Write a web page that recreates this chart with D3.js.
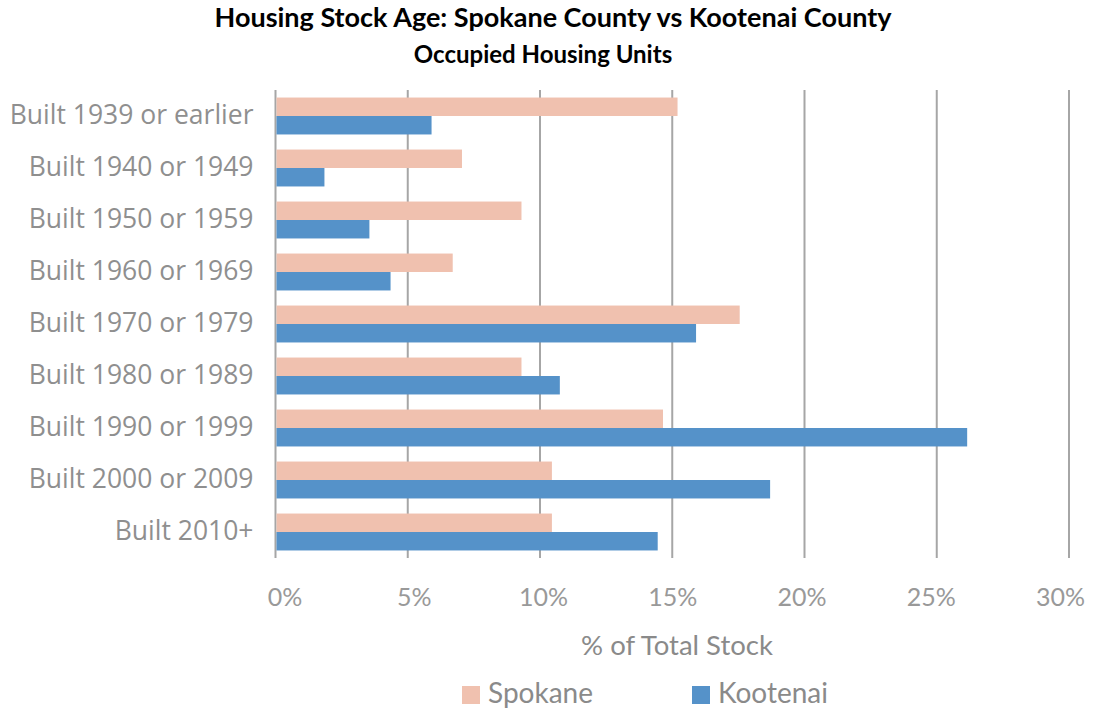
<!DOCTYPE html>
<html>
<head>
<meta charset="utf-8">
<script src="https://cdn.jsdelivr.net/npm/d3@7"></script>
<style>
  body { margin: 0; background: #fff; }
  svg { display: block; }
</style>
</head>
<body>
<svg id="chart"></svg>
<script>
// Housing stock age bar chart
var categories = ["Built 1939 or earlier", "Built 1940 or 1949", "Built 1950 or 1959", "Built 1960 or 1969",
    "Built 1970 or 1979", "Built 1980 or 1989", "Built 1990 or 1999", "Built 2000 or 2009", "Built 2010+"]
var seriesNames = ["Spokane", "Kootenai"]
var spokane = [15.2, 7.05, 9.3, 6.7, 17.55, 9.3, 14.65, 10.45, 10.45]
var kootenai = [5.9, 1.85, 3.55, 4.35, 15.9, 10.75, 26.15, 18.7, 14.45]
var xTicks = [0, 5, 10, 15, 20, 25, 30]

var dimensions = {
    width: 1095,
    height: 710,
    margin: { top: 90, bottom: 152, left: 275.5, right: 26 }
}
var colors = ["#f0c1af", "#5592c9"]
var grey = "#999999"

var svg = d3.select("#chart")
    .attr("width", dimensions.width)
    .attr("height", dimensions.height)

var xScale = d3.scaleLinear()
    .domain([0, 30])
    .range([dimensions.margin.left, dimensions.width - dimensions.margin.right])

// tick labels in the picture sit a bit inside the gridlines
var labelScale = d3.scaleLinear()
    .domain([0, 30])
    .range([dimensions.margin.left + 9, dimensions.width - dimensions.margin.right - 9])

var yScale = d3.scaleBand()
    .domain(categories)
    .range([dimensions.margin.top, dimensions.height - dimensions.margin.bottom])
    .paddingInner(0.29)
    .paddingOuter(0.145)

var subScale = d3.scaleBand()
    .domain(seriesNames)
    .range([0, yScale.bandwidth()])

var colorScale = d3.scaleOrdinal().domain(seriesNames).range(colors)

var data = categories.map((c, i) => ({ cat: c, values: [
    { name: "Spokane", v: spokane[i] },
    { name: "Kootenai", v: kootenai[i] }
]}))

var plotBottom = dimensions.height - dimensions.margin.bottom

// gridlines
svg.append("g")
    .selectAll("line")
    .data(xTicks)
    .enter()
    .append("line")
    .attr("x1", d => xScale(d))
    .attr("x2", d => xScale(d))
    .attr("y1", dimensions.margin.top)
    .attr("y2", plotBottom)
    .attr("stroke", "#a6a6a6")
    .attr("stroke-width", 2)

// bars
var groups = svg.append("g")
    .selectAll("g")
    .data(data)
    .enter()
    .append("g")
    .attr("transform", d => `translate(0,${yScale(d.cat)})`)

groups.selectAll("rect")
    .data(d => d.values)
    .enter()
    .append("rect")
    .attr("x", xScale(0) + 1)
    .attr("y", d => subScale(d.name))
    .attr("width", d => xScale(d.v) - xScale(0) - 1)
    .attr("height", subScale.bandwidth())
    .attr("fill", d => colorScale(d.name))

// category labels
svg.append("g")
    .call(d3.axisLeft(yScale).tickSize(0).tickPadding(22))
    .attr("transform", `translate(${xScale(0)},0)`)
    .call(g => g.select(".domain").remove())
    .selectAll("text")
    .style("font-family", "'Open Sans'")
    .style("font-size", "26.5px")
    .attr("fill", "#8f8f8f")

// x tick labels
svg.append("g")
    .call(d3.axisBottom(labelScale).tickValues(xTicks).tickFormat(d => d + "%").tickSize(0).tickPadding(0))
    .attr("transform", `translate(0,${plotBottom + 30})`)
    .call(g => g.select(".domain").remove())
    .selectAll("text")
    .style("font-family", "Lato")
    .style("font-size", "25px")
    .attr("fill", grey)

// axis title
svg.append("text")
    .attr("x", 677)
    .attr("y", 655)
    .attr("text-anchor", "middle")
    .style("font-family", "Lato")
    .style("font-size", "27.5px")
    .attr("fill", "#8a8a8a")
    .text("% of Total Stock")

// titles
svg.append("text")
    .attr("x", 553)
    .attr("y", 27)
    .attr("text-anchor", "middle")
    .style("font-family", "Lato")
    .style("font-weight", "bold")
    .style("font-size", "27px")
    .attr("fill", "#000")
    .text("Housing Stock Age: Spokane County vs Kootenai County")

svg.append("text")
    .attr("x", 543)
    .attr("y", 63)
    .attr("text-anchor", "middle")
    .style("font-family", "Lato")
    .style("font-weight", "bold")
    .style("font-size", "24px")
    .attr("fill", "#000")
    .text("Occupied Housing Units")

// legend
var legendX = [462, 692]
var legend = svg.append("g")
    .selectAll("g")
    .data(seriesNames)
    .enter()
    .append("g")
    .attr("transform", (d, i) => `translate(${legendX[i]},686)`)

legend.append("rect")
    .attr("width", 18)
    .attr("height", 18)
    .attr("fill", d => colorScale(d))

legend.append("text")
    .attr("x", 26)
    .attr("y", 17)
    .style("font-family", "Lato")
    .style("font-size", "28px")
    .attr("fill", "#8a8a8a")
    .text(d => d)
</script>
</body>
</html>
